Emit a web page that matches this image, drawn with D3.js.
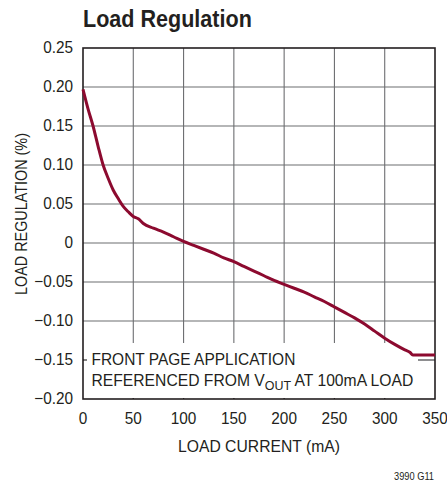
<!DOCTYPE html>
<html><head><meta charset="utf-8">
<script src="https://cdn.jsdelivr.net/npm/d3@7"></script>
<style>
body{margin:0;background:#fff;}
text{font-family:"Liberation Sans Narrow","Arial Narrow","Liberation Sans",sans-serif;fill:#231f20;}
</style></head><body>
<svg id="c" width="447" height="485"></svg>
<script>
const loadCurrent = [0,5,10,15,20,25,30,35,40,45,50,55,60,70,80,90,100,110,120,130,140,150,160,170,180,190,200,210,220,230,240,250,260,270,280,290,300,310,320,325,328,350];
const regulation = [0.197,0.172,0.150,0.124,0.100,0.083,0.068,0.057,0.047,0.040,0.034,0.031,0.025,0.019,0.014,0.008,0.002,-0.003,-0.008,-0.013,-0.019,-0.024,-0.030,-0.036,-0.042,-0.048,-0.053,-0.058,-0.063,-0.069,-0.075,-0.082,-0.089,-0.096,-0.104,-0.113,-0.122,-0.130,-0.137,-0.140,-0.1436,-0.1436];
const xTicks = [0,50,100,150,200,250,300,350];
const yTicks = [0.25,0.20,0.15,0.10,0.05,0,-0.05,-0.10,-0.15,-0.20];
const yTickLabels = ["0.25","0.20","0.15","0.10","0.05","0","\u22120.05","\u22120.10","\u22120.15","\u22120.20"];

const svg = d3.select("#c");
const L=83, R=435, T=48, B=399;
const x = d3.scaleLinear().domain([0,350]).range([L,R]);
const y = d3.scaleLinear().domain([-0.20,0.25]).range([B,T]);

function fit(sel, target, ax, ay, rotate){
  const w = sel.node().getComputedTextLength();
  const s = target / w;
  if (rotate) sel.attr("transform", `translate(${ax},${ay}) rotate(-90) scale(${s},1)`);
  else sel.attr("transform", `translate(${ax},0) scale(${s},1) translate(${-ax},0)`);
}

const g = svg.append("g");
g.selectAll(".vg").data(xTicks.slice(1,-1)).enter().append("line")
 .attr("x1",d=>x(d)).attr("x2",d=>x(d)).attr("y1",T).attr("y2",B)
 .attr("stroke","#6d6e71").attr("stroke-width",1.1);
g.selectAll(".hg").data(yTicks.slice(1,-1)).enter().append("line")
 .attr("x1",L).attr("x2",R).attr("y1",d=>y(d)).attr("y2",d=>y(d))
 .attr("stroke","#6d6e71").attr("stroke-width",1.1);

// white backing of the annotation
svg.append("rect").attr("x",L+1).attr("y",343).attr("width",418-L-1).attr("height",B-343-1).attr("fill","#fff");
g.selectAll(".bt").data(xTicks.slice(1,-1)).enter().append("line")
 .attr("x1",d=>x(d)).attr("x2",d=>x(d)).attr("y1",B).attr("y2",B-4)
 .attr("stroke","#231f20").attr("stroke-width",1.1);
svg.append("line").attr("x1",L).attr("x2",L+4).attr("y1",y(-0.15)).attr("y2",y(-0.15))
 .attr("stroke","#231f20").attr("stroke-width",1.1);
svg.append("line").attr("x1",418).attr("x2",R).attr("y1",y(-0.15)).attr("y2",y(-0.15))
 .attr("stroke","#6d6e71").attr("stroke-width",1.1);

svg.append("rect").attr("x",L).attr("y",T).attr("width",R-L).attr("height",B-T)
 .attr("fill","none").attr("stroke","#231f20").attr("stroke-width",1.6);

const line = d3.line().x((d,i)=>x(loadCurrent[i])).y(d=>y(d)).curve(d3.curveMonotoneX);
svg.append("path").datum(regulation).attr("d",line).attr("fill","none")
 .attr("stroke","#8c0a2f").attr("stroke-width",3).attr("stroke-linejoin","round");

svg.selectAll(".yl").data(yTicks).enter().append("text")
 .attr("x",73).attr("y",d=>y(d)+5.5).attr("text-anchor","end")
 .attr("font-size",16.5).text((d,i)=>yTickLabels[i])
 .each(function(){ const t=d3.select(this); fit(t, this.getComputedTextLength()*0.93, 73); });
svg.selectAll(".xl").data(xTicks).enter().append("text")
 .attr("x",d=>x(d)).attr("y",424).attr("text-anchor","middle")
 .attr("font-size",16.5).text(d=>d)
 .each(function(d){ const t=d3.select(this); fit(t, this.getComputedTextLength()*0.93, x(d)); });

const xl = svg.append("text").attr("x",(L+R)/2).attr("y",452).attr("text-anchor","middle")
 .attr("font-size",17).text("LOAD CURRENT (mA)");
fit(xl, 162, (L+R)/2);
const yl = svg.append("text").attr("x",0).attr("y",0)
 .attr("text-anchor","middle").attr("font-size",17).text("LOAD REGULATION (%)");
fit(yl, 162, 27, 214, true);

const title = svg.append("text").attr("x",83).attr("y",27).attr("font-size",24).attr("font-weight","bold")
 .text("Load Regulation");
fit(title, 169, 83);

const a1 = svg.append("text").attr("font-size",17).attr("x",91.5).attr("y",365).text("FRONT PAGE APPLICATION");
fit(a1, 204, 91.5);
const l2 = svg.append("text").attr("font-size",17).attr("x",91.5).attr("y",386);
l2.append("tspan").text("REFERENCED FROM V");
l2.append("tspan").attr("font-size",13.5).attr("dy",4).text("OUT");
l2.append("tspan").attr("dy",-4).text(" AT 100mA LOAD");
fit(l2, 322, 91.5);

const note = svg.append("text").attr("x",434).attr("y",480).attr("text-anchor","end").attr("font-size",11).text("3990 G11");
fit(note, 40, 434);
</script></body></html>
